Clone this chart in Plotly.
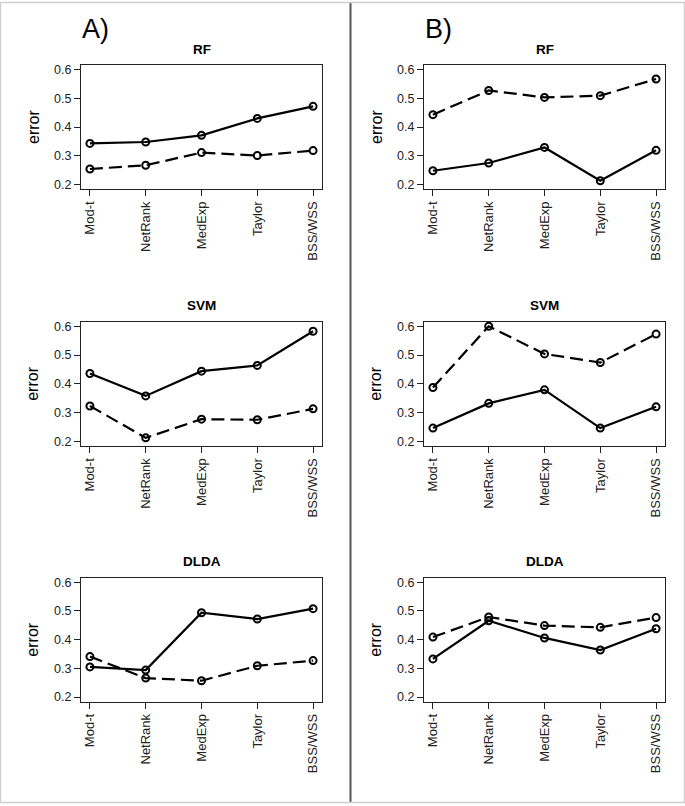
import plotly.graph_objects as go

categories = ["Mod-t", "NetRank", "MedExp", "Taylor", "BSS/WSS"]
y_ticks = [0.2, 0.3, 0.4, 0.5, 0.6]
y_tick_labels = ["0.2", "0.3", "0.4", "0.5", "0.6"]
classifiers = ["RF", "SVM", "DLDA"]
panel_labels = ["A)", "B)"]

# Panel A
a_rf_solid = [0.343, 0.348, 0.371, 0.430, 0.472]
a_rf_dashed = [0.254, 0.267, 0.311, 0.301, 0.318]
a_svm_solid = [0.436, 0.358, 0.444, 0.464, 0.583]
a_svm_dashed = [0.323, 0.212, 0.277, 0.275, 0.313]
a_dlda_solid = [0.305, 0.294, 0.494, 0.472, 0.508]
a_dlda_dashed = [0.341, 0.266, 0.257, 0.309, 0.327]

# Panel B
b_rf_solid = [0.248, 0.275, 0.329, 0.213, 0.319]
b_rf_dashed = [0.443, 0.527, 0.503, 0.509, 0.567]
b_svm_solid = [0.246, 0.332, 0.379, 0.246, 0.320]
b_svm_dashed = [0.387, 0.600, 0.504, 0.474, 0.573]
b_dlda_solid = [0.333, 0.466, 0.406, 0.364, 0.438]
b_dlda_dashed = [0.409, 0.479, 0.449, 0.443, 0.477]

panels = {
    (0, 0): (a_rf_solid, a_rf_dashed),
    (1, 0): (a_svm_solid, a_svm_dashed),
    (2, 0): (a_dlda_solid, a_dlda_dashed),
    (0, 1): (b_rf_solid, b_rf_dashed),
    (1, 1): (b_svm_solid, b_svm_dashed),
    (2, 1): (b_dlda_solid, b_dlda_dashed),
}

W, H = 685, 806
FONT = "Liberation Sans, Arial, Helvetica, sans-serif"

# pixel geometry of plot boxes
col_x = [(81, 322), (424, 665)]
row_y = [(63.3, 188.3), (321.7, 446.7), (579.3, 704.0)]

def px_x(p):
    return p / W

def px_y(p):
    return 1 - p / H

fig = go.Figure()
layout_axes = {}
annotations = []
xs = list(range(1, len(categories) + 1))

idx = 0
for (r, c), (solid, dashed) in panels.items():
    idx += 1
    xa = "x" if idx == 1 else f"x{idx}"
    ya = "y" if idx == 1 else f"y{idx}"
    for vals, dash in ((solid, "solid"), (dashed, "13px,6px")):
        fig.add_trace(go.Scatter(
            x=xs, y=vals, xaxis=xa, yaxis=ya, mode="lines+markers",
            line=dict(color="black", width=2.2, dash=dash),
            marker=dict(symbol="circle-open", size=7, color="black",
                        line=dict(width=2, color="black")),
            showlegend=False, hoverinfo="skip", cliponaxis=False))
    x0, x1 = col_x[c]
    y0, y1 = row_y[r]
    common = dict(showline=True, mirror=True, linecolor="#222", linewidth=1.2,
                  ticks="outside", ticklen=6, tickwidth=1.2, tickcolor="#222",
                  showgrid=False, zeroline=False)
    layout_axes["xaxis" if idx == 1 else f"xaxis{idx}"] = dict(
        domain=[px_x(x0), px_x(x1)], anchor=ya, range=[0.84, 5.16],
        tickvals=xs, ticktext=categories, tickangle=-90,
        tickfont=dict(family=FONT, size=13, color="#222"), **common)
    layout_axes["yaxis" if idx == 1 else f"yaxis{idx}"] = dict(
        domain=[px_y(y1), px_y(y0)], anchor=xa, range=[0.184, 0.616],
        tickvals=y_ticks, ticktext=y_tick_labels,
        tickfont=dict(family=FONT, size=12.5, color="#222"), **common)
    # title
    annotations.append(dict(
        text=f"<b>{classifiers[r]}</b>", x=px_x((x0 + x1) / 2), y=px_y(y0 - 16),
        xref="paper", yref="paper", showarrow=False, xanchor="center", yanchor="middle",
        font=dict(family=FONT, size=13.5, color="black")))
    # y label
    annotations.append(dict(
        text="error", x=px_x(x0 - 48), y=px_y((y0 + y1) / 2),
        xref="paper", yref="paper", showarrow=False, textangle=-90,
        xanchor="center", yanchor="middle",
        font=dict(family=FONT, size=16, color="black")))

for c, lab in enumerate(panel_labels):
    annotations.append(dict(
        text=lab, x=px_x(col_x[c][0] - 1), y=px_y(27), xref="paper", yref="paper",
        showarrow=False, xanchor="left", yanchor="middle",
        font=dict(family=FONT, size=27, color="black")))

shapes = [
    dict(type="line", xref="paper", yref="paper", x0=px_x(350.5), x1=px_x(350.5),
         y0=0, y1=1, line=dict(color="#555", width=2)),
    dict(type="rect", xref="paper", yref="paper", x0=0.0007, x1=0.9993, y0=0.0007, y1=0.9993,
         line=dict(color="#cfcfcf", width=1.5)),
]

fig.update_layout(
    width=W, height=H, margin=dict(l=0, r=0, t=0, b=0),
    paper_bgcolor="white", plot_bgcolor="white",
    annotations=annotations, shapes=shapes, **layout_axes)

fig.write_html("out.html", config={"displayModeBar": False},
               post_script="document.body.style.margin='0';document.body.style.padding='0';document.body.style.overflow='hidden';")
